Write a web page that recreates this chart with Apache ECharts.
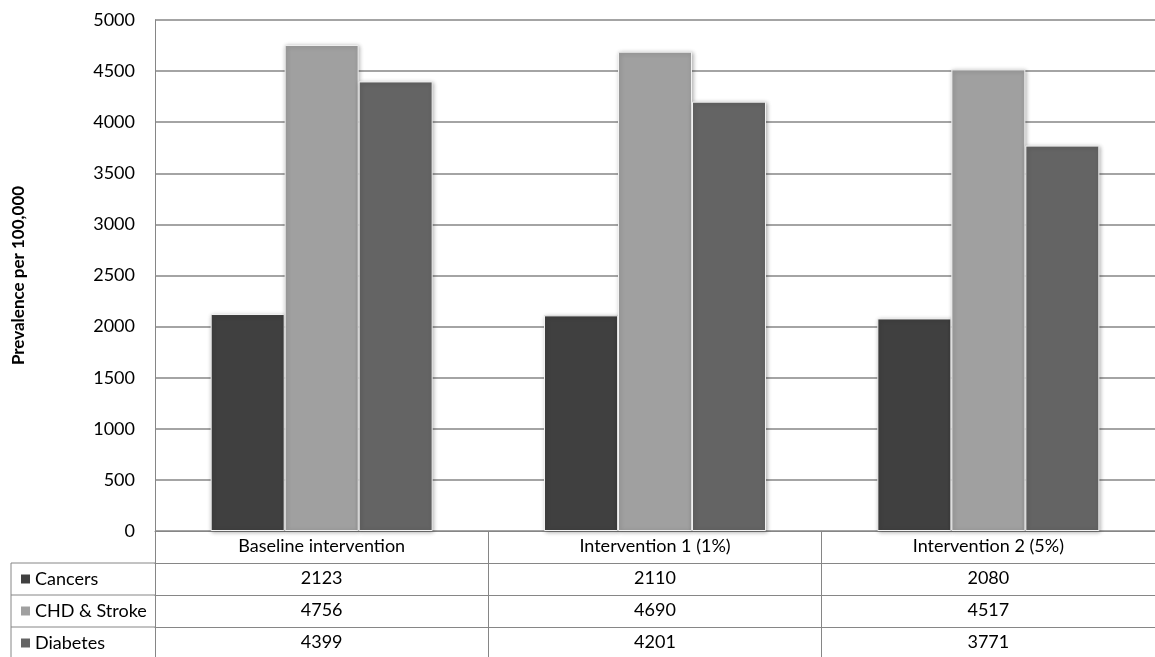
<!DOCTYPE html>
<html>
<head>
<meta charset="utf-8">
<script src="https://cdn.jsdelivr.net/npm/echarts@6/dist/echarts.min.js"></script>
<style>
  html, body { margin: 0; padding: 0; background: #fff; }
  #chart { width: 1155px; height: 657px; }
</style>
</head>
<body>
<div id="chart"></div>
<script>
// ---- data ----
const categories = ['Baseline intervention', 'Intervention 1 (1%)', 'Intervention 2 (5%)'];
const seriesNames = ['Cancers', 'CHD & Stroke', 'Diabetes'];
const cancers = [2123, 2110, 2080];
const chdStroke = [4756, 4690, 4517];
const diabetes = [4399, 4201, 3771];
const yMin = 0, yMax = 5000, yStep = 500;
const yTitle = 'Prevalence per 100,000';

// ---- layout & style ----
const FONT = 'Lato, "Open Sans", sans-serif';
const FS = 18;
const GRID_LEFT = 155, GRID_TOP = 20, PLOT_H = 511, CAT_W = 335;
const ROW_H = 32, TABLE_LEFT = 11;
const LINE = '#868686';
const colors = ['#404040', '#a0a0a0', '#646464'];
const seriesValues = [cancers, chdStroke, diabetes];

const chart = echarts.init(document.getElementById('chart'), null, { renderer: 'canvas' });

const axisBottom = GRID_TOP + PLOT_H;

// one category axis per table row; the first carries the bars and the header
function tableAxis(data, rowIndex) {
  return {
    type: 'category',
    gridIndex: 0,
    position: 'bottom',
    offset: rowIndex * ROW_H,
    data: data,
    boundaryGap: true,
    axisLine: { show: true, lineStyle: { color: LINE, width: 1 } },
    axisTick: { show: true, interval: 0, length: ROW_H, lineStyle: { color: LINE, width: 1 } },
    axisLabel: { interval: 0, margin: 6, fontFamily: FONT, fontSize: FS, color: '#000' },
    splitLine: { show: false }
  };
}

const xAxes = [tableAxis(categories, 0)];
seriesValues.forEach((vals, i) => xAxes.push(tableAxis(vals.map(String), i + 1)));

// row headers of the data table (left column)
const graphics = [];
seriesNames.forEach((name, i) => {
  const top = axisBottom + ROW_H * (i + 1);
  graphics.push({
    type: 'line', silent: true,
    shape: { x1: TABLE_LEFT, y1: top, x2: GRID_LEFT, y2: top },
    style: { stroke: LINE, lineWidth: 1 }
  });
  graphics.push({
    type: 'rect', silent: true,
    shape: { x: TABLE_LEFT + 10, y: top + ROW_H / 2 - 4.5, width: 9, height: 9 },
    style: { fill: colors[i] }
  });
  graphics.push({
    type: 'text', silent: true,
    x: TABLE_LEFT + 24, y: top + ROW_H / 2,
    style: { text: name, fontFamily: FONT, fontSize: FS, fill: '#000', verticalAlign: 'middle', align: 'left' }
  });
});
graphics.push({
  type: 'line', silent: true,
  shape: { x1: TABLE_LEFT, y1: axisBottom + ROW_H, x2: TABLE_LEFT, y2: axisBottom + ROW_H * 4 + 2 },
  style: { stroke: LINE, lineWidth: 1 }
});

const option = {
  backgroundColor: '#fff',
  animation: false,
  grid: { left: GRID_LEFT, top: GRID_TOP, width: CAT_W * categories.length, height: PLOT_H, containLabel: false },
  xAxis: xAxes,
  yAxis: {
    type: 'value',
    min: yMin, max: yMax, interval: yStep,
    name: yTitle,
    nameLocation: 'middle',
    nameGap: 128,
    nameRotate: 90,
    nameTextStyle: { fontFamily: FONT, fontSize: 17, fontWeight: 'bold', color: '#000' },
    axisLine: { show: true, lineStyle: { color: LINE, width: 1 } },
    axisTick: { show: false },
    axisLabel: { margin: 20, fontFamily: FONT, fontSize: FS, color: '#000', formatter: v => String(v) },
    splitLine: { show: true, lineStyle: { color: LINE, width: 1.5 } }
  },
  series: seriesNames.map((name, i) => ({
    name: name,
    type: 'bar',
    xAxisIndex: 0,
    data: seriesValues[i],
    barGap: '0%',
    barCategoryGap: '33.4%',
    itemStyle: {
      color: colors[i],
      borderColor: '#f2f2f2',
      borderWidth: 1,
      shadowBlur: 4,
      shadowColor: 'rgba(0,0,0,0.3)',
      shadowOffsetX: 1,
      shadowOffsetY: 1
    }
  })),
  graphic: graphics
};

chart.setOption(option);
</script>
</body>
</html>
